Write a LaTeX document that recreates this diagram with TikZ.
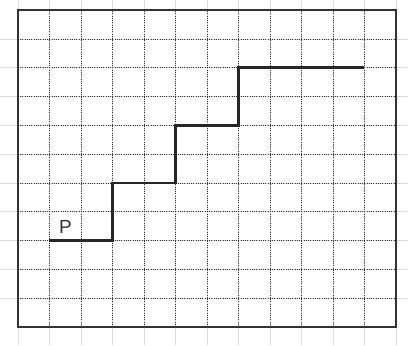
\documentclass[tikz,border=0pt]{standalone}
\usepackage{fontspec}
\setmainfont{Liberation Sans}
\usetikzlibrary{positioning}
\tikzset{
  grid_faint/.style={draw=black!14,line width=0.5pt},
  grid_dot/.style={draw=black!78,line width=0.65pt,dash pattern=on 0.6pt off 1pt},
  frame_line/.style={draw=black!80,line width=1.4pt},
  stair_line/.style={draw=black!85,line width=2.1pt,line join=miter},
  pt_label/.style={font=\fontsize{13.5}{13.5}\selectfont,text=black!80,inner sep=1pt},
}
\begin{document}
\begin{tikzpicture}[x=0.7875cm,y=0.72cm]
  \useasboundingbox (-0.571,-0.625) rectangle (12.381,11.354);
  % faint background grid, running past the frame
  \foreach \i in {0,...,12} \draw[grid_faint] (\i,-0.625) -- (\i,11.354);
  \foreach \j in {1,...,10} \draw[grid_faint] (-0.571,\j) -- (12.381,\j);
  % dotted grid inside the frame
  \foreach \i in {1,...,11} \draw[grid_dot] (\i,0) -- (\i,11);
  \foreach \j in {1,...,10} \draw[grid_dot] (0,\j) -- (12,\j);
  \draw[frame_line] (0,0) rectangle (12,11);
  % staircase
  \coordinate (P) at (1,3);
  \coordinate (end) at (11,9);
  \draw[stair_line] (P) -| (3,5) -| (5,7) -| (7,9) -- (end);
  \node[pt_label,above right=0.14cm and 0.2cm of P] (lblP) {P};
\end{tikzpicture}
\end{document}
